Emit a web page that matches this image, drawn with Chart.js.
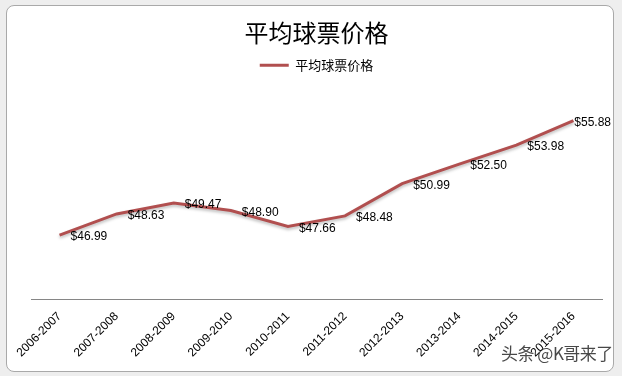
<!DOCTYPE html>
<html lang="zh">
<head>
<meta charset="UTF-8">
<title>平均球票价格</title>
<script src="https://cdn.jsdelivr.net/npm/chart.js"></script>
<style>
  html, body { margin: 0; padding: 0; }
  body { width: 622px; height: 376px; background: #eeeeee; position: relative; overflow: hidden; }
  .moldura { position: absolute; left: 6px; top: 5px; width: 606px; height: 365px; background: #fff;
             border: 1px solid #a9a9a9; border-radius: 8px; }
  #grafico { position: absolute; left: 0; top: 0; }
  .marca { position: absolute; left: 501px; top: 340px; font: 17px "Noto Sans CJK SC", sans-serif;
           color: rgba(40,40,40,0.85); white-space: nowrap; letter-spacing: -0.5px; }
</style>
</head>
<body>
<div class="moldura"></div>
<canvas id="grafico" width="622" height="376"></canvas>
<div class="marca">头条 @K哥来了</div>
<script>
// temporadas e preco medio do ingresso
var temporadas = ['2006-2007', '2007-2008', '2008-2009', '2009-2010', '2010-2011',
                  '2011-2012', '2012-2013', '2013-2014', '2014-2015', '2015-2016'];
var precos = [46.99, 48.63, 49.47, 48.90, 47.66, 48.48, 50.99, 52.50, 53.98, 55.88];
var nomeSerie = '平均球票价格';
var titulo = '平均球票价格';

var corLinha = '#b14f4f';

// sombra leve na linha, como no excel
var sombraLinha = {
  id: 'sombraLinha',
  beforeDatasetDraw: function (chart) {
    var ctx = chart.ctx;
    ctx.save();
    ctx.shadowColor = 'rgba(0,0,0,0.25)';
    ctx.shadowBlur = 3;
    ctx.shadowOffsetY = 2;
  },
  afterDatasetDraw: function (chart) {
    chart.ctx.restore();
  }
};

// rotulos de valor a direita de cada ponto
var rotulos = {
  id: 'rotulos',
  afterDatasetsDraw: function (chart) {
    var ctx = chart.ctx;
    var meta = chart.getDatasetMeta(0);
    ctx.save();
    ctx.font = '12px "Liberation Sans", Arial, sans-serif';
    ctx.fillStyle = '#000';
    ctx.textBaseline = 'middle';
    meta.data.forEach(function (pt, i) {
      var txt = '$' + precos[i].toFixed(2);
      var w = ctx.measureText(txt).width;
      var x = Math.min(pt.x + 11, 611 - w);
      ctx.fillText(txt, x, pt.y + 2);
    });
    ctx.restore();
  }
};

var grafico = new Chart(document.getElementById('grafico'), {
  type: 'line',
  data: {
    labels: temporadas,
    datasets: [{
      label: nomeSerie,
      data: precos,
      borderColor: corLinha,
      backgroundColor: corLinha,
      borderWidth: 3,
      pointRadius: 0,
      pointStyle: 'line',
      tension: 0
    }]
  },
  options: {
    responsive: false,
    animation: false,
    layout: { padding: { left: 31, right: 20, top: 10, bottom: 6 } },
    plugins: {
      title: {
        display: true,
        text: titulo,
        color: '#000',
        font: { family: '"Noto Sans CJK SC", sans-serif', size: 24, weight: 'normal' },
        padding: { top: 8, bottom: 6 }
      },
      legend: {
        display: true,
        labels: {
          usePointStyle: true,
          pointStyle: 'line',
          pointStyleWidth: 29,
          color: '#000',
          font: { family: '"Noto Sans CJK SC", sans-serif', size: 13 },
          padding: 6
        }
      },
      tooltip: { enabled: false }
    },
    scales: {
      x: {
        offset: true,
        grid: { display: false, drawTicks: false },
        border: { display: true, color: '#868686', width: 1 },
        ticks: {
          color: '#000',
          maxRotation: 45,
          minRotation: 45,
          padding: 10,
          font: { family: '"Liberation Sans", Arial, sans-serif', size: 12 }
        }
      },
      y: {
        display: false,
        min: 42,
        max: 58.9
      }
    }
  },
  plugins: [sombraLinha, rotulos]
});
</script>
</body>
</html>
